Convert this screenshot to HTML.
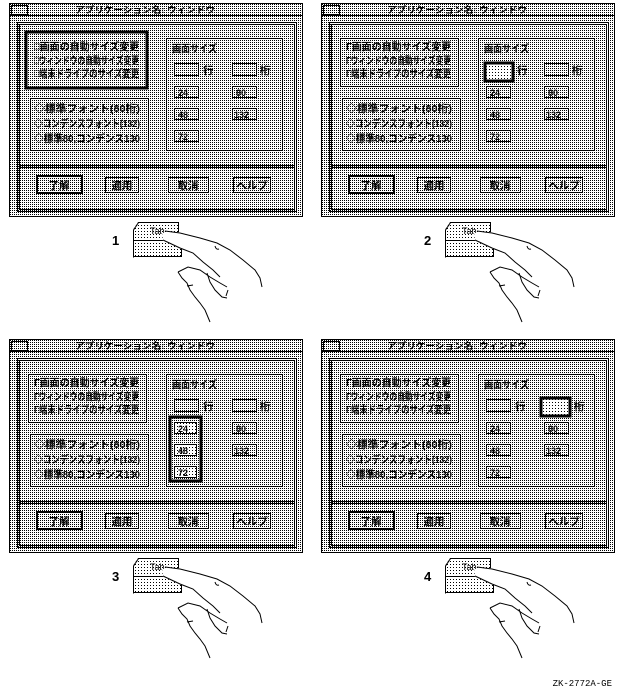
<!DOCTYPE html>
<html><head><meta charset="utf-8"><style>
html,body{margin:0;padding:0;background:#fff;}
svg{display:block;}
text{font-family:"Liberation Sans","Noto Sans CJK JP",sans-serif;fill:#000;}
.t{font-size:10.5px;font-weight:bold;}
.s{font-size:9px;font-weight:bold;}
.ln{fill:none;stroke:#000;stroke-width:1;}
</style></head><body>
<svg width="623" height="693" viewBox="0 0 623 693" xmlns="http://www.w3.org/2000/svg" shape-rendering="crispEdges">
<defs>
<pattern id="p" width="2" height="2" patternUnits="userSpaceOnUse"><rect width="2" height="2" fill="#fff"/><rect width="1" height="1" fill="#000"/></pattern>
<pattern id="q" width="3" height="3" patternUnits="userSpaceOnUse"><rect width="3" height="3" fill="#fff"/><rect width="1" height="1" fill="#000"/></pattern>
</defs>

<!-- PANEL 1 -->
<g transform="translate(0,0)">
<rect x="9.5" y="3.5" width="293" height="213" fill="url(#p)" stroke="#000"/>
<rect x="9.5" y="3.5" width="293" height="12" fill="none" stroke="#000"/>
<rect x="11.5" y="5.5" width="16" height="9" fill="none" stroke="#000"/>
<text x="75" y="13" class="s" textLength="140" lengthAdjust="spacingAndGlyphs">アプリケーション名: ウィンドウ</text>
<rect x="17.5" y="22.5" width="279" height="189" fill="none" stroke="#000"/>
<rect x="19.5" y="24.5" width="275" height="185" fill="none" stroke="#000"/>
<line x1="20" y1="165.5" x2="294" y2="165.5" stroke="#000"/><line x1="20" y1="167.5" x2="294" y2="167.5" stroke="#000"/>
<rect x="26" y="32" width="121" height="56" fill="none" stroke="#000" stroke-width="3"/>
<rect x="30.5" y="98.5" width="118" height="52" fill="none" stroke="#000"/>
<rect x="166.5" y="38.5" width="116" height="112" fill="none" stroke="#000"/>
<text x="34" y="50" class="t" textLength="105" lengthAdjust="spacingAndGlyphs">□画面の自動サイズ変更</text>
<text x="34" y="64" class="t" textLength="105" lengthAdjust="spacingAndGlyphs">□ウィンドウの自動サイズ変更</text>
<text x="34" y="77" class="t" textLength="105" lengthAdjust="spacingAndGlyphs">□端末ドライブのサイズ変更</text>
<text x="34" y="112" class="t" textLength="106" lengthAdjust="spacingAndGlyphs">◇標準フォント(80桁)</text>
<text x="34" y="127" class="t" textLength="106" lengthAdjust="spacingAndGlyphs">◇コンデンスフォント(132)</text>
<text x="34" y="142" class="t" textLength="106" lengthAdjust="spacingAndGlyphs">◇標準80,コンデンス130</text>
<text x="172" y="52" class="t" textLength="45" lengthAdjust="spacingAndGlyphs">画面サイズ</text>
<rect x="174.5" y="63.5" width="24" height="12" fill="none" stroke="#000"/><text x="203" y="74" class="t">行</text>
<rect x="232.5" y="63.5" width="24" height="12" fill="none" stroke="#000"/><text x="260" y="74" class="t">桁</text>
<rect x="174.5" y="86.5" width="24" height="11" fill="none" stroke="#000"/><text x="178" y="96" class="s">24</text>
<rect x="232.5" y="86.5" width="24" height="11" fill="none" stroke="#000"/><text x="236" y="96" class="s">80</text>
<rect x="174.5" y="108.5" width="24" height="11" fill="none" stroke="#000"/><text x="178" y="118" class="s">48</text>
<rect x="232.5" y="108.5" width="24" height="11" fill="none" stroke="#000"/><text x="234" y="118" class="s">132</text>
<rect x="174.5" y="130.5" width="24" height="11" fill="none" stroke="#000"/><text x="178" y="140" class="s">72</text>
<rect x="37" y="176" width="45" height="17" fill="none" stroke="#000" stroke-width="2"/><text x="59" y="189" class="t" text-anchor="middle">了解</text>
<rect x="105.5" y="177.5" width="33" height="15" fill="none" stroke="#000"/><text x="122" y="189" class="t" text-anchor="middle">適用</text>
<rect x="168.5" y="177.5" width="40" height="15" fill="none" stroke="#000"/><text x="188" y="189" class="t" text-anchor="middle">取消</text>
<rect x="233.5" y="177.5" width="37" height="15" fill="none" stroke="#000"/><text x="252" y="189" class="t" text-anchor="middle">ヘルプ</text>
</g>

<!-- PANEL 2 -->
<g transform="translate(312,0)">
<rect x="9.5" y="3.5" width="293" height="213" fill="url(#p)" stroke="#000"/>
<rect x="9.5" y="3.5" width="293" height="12" fill="none" stroke="#000"/>
<rect x="11.5" y="5.5" width="16" height="9" fill="none" stroke="#000"/>
<text x="75" y="13" class="s" textLength="140" lengthAdjust="spacingAndGlyphs">アプリケーション名: ウィンドウ</text>
<rect x="17.5" y="22.5" width="279" height="189" fill="none" stroke="#000"/>
<rect x="19.5" y="24.5" width="275" height="185" fill="none" stroke="#000"/>
<line x1="20" y1="165.5" x2="294" y2="165.5" stroke="#000"/><line x1="20" y1="167.5" x2="294" y2="167.5" stroke="#000"/>
<rect x="28.5" y="38.5" width="118" height="48" fill="none" stroke="#000"/>
<rect x="30.5" y="98.5" width="118" height="52" fill="none" stroke="#000"/>
<rect x="166.5" y="38.5" width="116" height="112" fill="none" stroke="#000"/>
<text x="34" y="50" class="t" textLength="105" lengthAdjust="spacingAndGlyphs">Γ画面の自動サイズ変更</text>
<text x="34" y="64" class="t" textLength="105" lengthAdjust="spacingAndGlyphs">Γウィンドウの自動サイズ変更</text>
<text x="34" y="77" class="t" textLength="105" lengthAdjust="spacingAndGlyphs">Γ端末ドライブのサイズ変更</text>
<text x="34" y="112" class="t" textLength="106" lengthAdjust="spacingAndGlyphs">◇標準フォント(80桁)</text>
<text x="34" y="127" class="t" textLength="106" lengthAdjust="spacingAndGlyphs">◇コンデンスフォント(132)</text>
<text x="34" y="142" class="t" textLength="106" lengthAdjust="spacingAndGlyphs">◇標準80,コンデンス130</text>
<text x="172" y="52" class="t" textLength="45" lengthAdjust="spacingAndGlyphs">画面サイズ</text>
<rect x="173" y="63" width="28" height="18" fill="url(#q)" stroke="#000" stroke-width="3"/><text x="205" y="74" class="t">行</text>
<rect x="232.5" y="63.5" width="24" height="12" fill="none" stroke="#000"/><text x="260" y="74" class="t">桁</text>
<rect x="174.5" y="86.5" width="24" height="11" fill="none" stroke="#000"/><text x="178" y="96" class="s">24</text>
<rect x="232.5" y="86.5" width="24" height="11" fill="none" stroke="#000"/><text x="236" y="96" class="s">80</text>
<rect x="174.5" y="108.5" width="24" height="11" fill="none" stroke="#000"/><text x="178" y="118" class="s">48</text>
<rect x="232.5" y="108.5" width="24" height="11" fill="none" stroke="#000"/><text x="234" y="118" class="s">132</text>
<rect x="174.5" y="130.5" width="24" height="11" fill="none" stroke="#000"/><text x="178" y="140" class="s">72</text>
<rect x="37" y="176" width="45" height="17" fill="none" stroke="#000" stroke-width="2"/><text x="59" y="189" class="t" text-anchor="middle">了解</text>
<rect x="105.5" y="177.5" width="33" height="15" fill="none" stroke="#000"/><text x="122" y="189" class="t" text-anchor="middle">適用</text>
<rect x="168.5" y="177.5" width="40" height="15" fill="none" stroke="#000"/><text x="188" y="189" class="t" text-anchor="middle">取消</text>
<rect x="233.5" y="177.5" width="37" height="15" fill="none" stroke="#000"/><text x="252" y="189" class="t" text-anchor="middle">ヘルプ</text>
</g>

<!-- PANEL 3 -->
<g transform="translate(0,336)">
<rect x="9.5" y="3.5" width="293" height="213" fill="url(#p)" stroke="#000"/>
<rect x="9.5" y="3.5" width="293" height="12" fill="none" stroke="#000"/>
<rect x="11.5" y="5.5" width="16" height="9" fill="none" stroke="#000"/>
<text x="75" y="13" class="s" textLength="140" lengthAdjust="spacingAndGlyphs">アプリケーション名: ウィンドウ</text>
<rect x="17.5" y="22.5" width="279" height="189" fill="none" stroke="#000"/>
<rect x="19.5" y="24.5" width="275" height="185" fill="none" stroke="#000"/>
<line x1="20" y1="165.5" x2="294" y2="165.5" stroke="#000"/><line x1="20" y1="167.5" x2="294" y2="167.5" stroke="#000"/>
<rect x="28.5" y="38.5" width="118" height="48" fill="none" stroke="#000"/>
<rect x="30.5" y="98.5" width="118" height="52" fill="none" stroke="#000"/>
<rect x="166.5" y="38.5" width="116" height="112" fill="none" stroke="#000"/>
<text x="34" y="50" class="t" textLength="105" lengthAdjust="spacingAndGlyphs">Γ画面の自動サイズ変更</text>
<text x="34" y="64" class="t" textLength="105" lengthAdjust="spacingAndGlyphs">Γウィンドウの自動サイズ変更</text>
<text x="34" y="77" class="t" textLength="105" lengthAdjust="spacingAndGlyphs">Γ端末ドライブのサイズ変更</text>
<text x="34" y="112" class="t" textLength="106" lengthAdjust="spacingAndGlyphs">◇標準フォント(80桁)</text>
<text x="34" y="127" class="t" textLength="106" lengthAdjust="spacingAndGlyphs">◇コンデンスフォント(132)</text>
<text x="34" y="142" class="t" textLength="106" lengthAdjust="spacingAndGlyphs">◇標準80,コンデンス130</text>
<text x="172" y="52" class="t" textLength="45" lengthAdjust="spacingAndGlyphs">画面サイズ</text>
<rect x="174.5" y="63.5" width="24" height="12" fill="none" stroke="#000"/><text x="203" y="74" class="t">行</text>
<rect x="232.5" y="63.5" width="24" height="12" fill="none" stroke="#000"/><text x="260" y="74" class="t">桁</text>
<rect x="170" y="81" width="31" height="64" fill="none" stroke="#000" stroke-width="3"/>
<rect x="174.5" y="86.5" width="22" height="11" fill="url(#q)" stroke="#000"/><text x="178" y="96" class="s">24</text>
<rect x="232.5" y="86.5" width="24" height="11" fill="none" stroke="#000"/><text x="236" y="96" class="s">80</text>
<rect x="174.5" y="108.5" width="22" height="11" fill="url(#q)" stroke="#000"/><text x="178" y="118" class="s">48</text>
<rect x="232.5" y="108.5" width="24" height="11" fill="none" stroke="#000"/><text x="234" y="118" class="s">132</text>
<rect x="174.5" y="130.5" width="22" height="11" fill="url(#q)" stroke="#000"/><text x="178" y="140" class="s">72</text>
<rect x="37" y="176" width="45" height="17" fill="none" stroke="#000" stroke-width="2"/><text x="59" y="189" class="t" text-anchor="middle">了解</text>
<rect x="105.5" y="177.5" width="33" height="15" fill="none" stroke="#000"/><text x="122" y="189" class="t" text-anchor="middle">適用</text>
<rect x="168.5" y="177.5" width="40" height="15" fill="none" stroke="#000"/><text x="188" y="189" class="t" text-anchor="middle">取消</text>
<rect x="233.5" y="177.5" width="37" height="15" fill="none" stroke="#000"/><text x="252" y="189" class="t" text-anchor="middle">ヘルプ</text>
</g>

<!-- PANEL 4 -->
<g transform="translate(312,336)">
<rect x="9.5" y="3.5" width="293" height="213" fill="url(#p)" stroke="#000"/>
<rect x="9.5" y="3.5" width="293" height="12" fill="none" stroke="#000"/>
<rect x="11.5" y="5.5" width="16" height="9" fill="none" stroke="#000"/>
<text x="75" y="13" class="s" textLength="140" lengthAdjust="spacingAndGlyphs">アプリケーション名: ウィンドウ</text>
<rect x="17.5" y="22.5" width="279" height="189" fill="none" stroke="#000"/>
<rect x="19.5" y="24.5" width="275" height="185" fill="none" stroke="#000"/>
<line x1="20" y1="165.5" x2="294" y2="165.5" stroke="#000"/><line x1="20" y1="167.5" x2="294" y2="167.5" stroke="#000"/>
<rect x="28.5" y="38.5" width="118" height="48" fill="none" stroke="#000"/>
<rect x="30.5" y="98.5" width="118" height="52" fill="none" stroke="#000"/>
<rect x="166.5" y="38.5" width="116" height="112" fill="none" stroke="#000"/>
<text x="34" y="50" class="t" textLength="105" lengthAdjust="spacingAndGlyphs">Γ画面の自動サイズ変更</text>
<text x="34" y="64" class="t" textLength="105" lengthAdjust="spacingAndGlyphs">Γウィンドウの自動サイズ変更</text>
<text x="34" y="77" class="t" textLength="105" lengthAdjust="spacingAndGlyphs">Γ端末ドライブのサイズ変更</text>
<text x="34" y="112" class="t" textLength="106" lengthAdjust="spacingAndGlyphs">◇標準フォント(80桁)</text>
<text x="34" y="127" class="t" textLength="106" lengthAdjust="spacingAndGlyphs">◇コンデンスフォント(132)</text>
<text x="34" y="142" class="t" textLength="106" lengthAdjust="spacingAndGlyphs">◇標準80,コンデンス130</text>
<text x="172" y="52" class="t" textLength="45" lengthAdjust="spacingAndGlyphs">画面サイズ</text>
<rect x="174.5" y="63.5" width="24" height="12" fill="none" stroke="#000"/><text x="203" y="74" class="t">行</text>
<rect x="229" y="62" width="29" height="18" fill="url(#q)" stroke="#000" stroke-width="3"/><text x="262" y="74" class="t">桁</text>
<rect x="174.5" y="86.5" width="24" height="11" fill="none" stroke="#000"/><text x="178" y="96" class="s">24</text>
<rect x="232.5" y="86.5" width="24" height="11" fill="none" stroke="#000"/><text x="236" y="96" class="s">80</text>
<rect x="174.5" y="108.5" width="24" height="11" fill="none" stroke="#000"/><text x="178" y="118" class="s">48</text>
<rect x="232.5" y="108.5" width="24" height="11" fill="none" stroke="#000"/><text x="234" y="118" class="s">132</text>
<rect x="174.5" y="130.5" width="24" height="11" fill="none" stroke="#000"/><text x="178" y="140" class="s">72</text>
<rect x="37" y="176" width="45" height="17" fill="none" stroke="#000" stroke-width="2"/><text x="59" y="189" class="t" text-anchor="middle">了解</text>
<rect x="105.5" y="177.5" width="33" height="15" fill="none" stroke="#000"/><text x="122" y="189" class="t" text-anchor="middle">適用</text>
<rect x="168.5" y="177.5" width="40" height="15" fill="none" stroke="#000"/><text x="188" y="189" class="t" text-anchor="middle">取消</text>
<rect x="233.5" y="177.5" width="37" height="15" fill="none" stroke="#000"/><text x="252" y="189" class="t" text-anchor="middle">ヘルプ</text>
</g>

<!-- HANDS -->
<g transform="translate(0,0)">
<text x="112" y="245" style="font-size:13px;font-weight:bold">1</text>
<path d="M133.5,257.5 L133.5,230 L138.5,222.5 L178.5,222.5 L178.5,240.5 L138.5,240.5 Z" fill="url(#q)" stroke="#000"/>
<rect x="133.5" y="240.5" width="48" height="16" fill="url(#q)" stroke="#000"/>
<text x="150" y="234" style="font-size:9px">Tab</text>
<g shape-rendering="geometricPrecision">
<path d="M162,233 L180,232 L200,238 L217,243 L230,250 L243,260 L255,270 L260,278 L262,288 L240,290 L220,277 L203,262 L193,253 L180,248 L163,241 Z" fill="#fff"/>
<path class="ln" d="M165,231 L180,233 L200,238 L217,243 L230,250 L243,260 L255,270 L260,278 L262,287"/>
<path class="ln" d="M163,240 L180,248 L193,253 L203,262 L213,270 L220,277"/>
<path class="ln" d="M215,246 Q216,250 219,249"/>
<path class="ln" d="M178,272 L188,267 L200,270 L210,277 L220,283 L227,287"/>
<path class="ln" d="M178,272 L182,278 L187,283 L190,290 L195,297 L200,303 L205,310 L210,322"/>
<path class="ln" d="M207,273 L210,282 L215,290 L222,297 L227,298"/>
<path class="ln" d="M187,286 L193,285"/><path class="ln" d="M228,290 L226,296"/>
</g>
</g>
<g transform="translate(312,0)">
<text x="112" y="245" style="font-size:13px;font-weight:bold">2</text>
<path d="M133.5,257.5 L133.5,230 L138.5,222.5 L178.5,222.5 L178.5,240.5 L138.5,240.5 Z" fill="url(#q)" stroke="#000"/>
<rect x="133.5" y="240.5" width="48" height="16" fill="url(#q)" stroke="#000"/>
<text x="150" y="234" style="font-size:9px">Tab</text>
<g shape-rendering="geometricPrecision">
<path d="M162,233 L180,232 L200,238 L217,243 L230,250 L243,260 L255,270 L260,278 L262,288 L240,290 L220,277 L203,262 L193,253 L180,248 L163,241 Z" fill="#fff"/>
<path class="ln" d="M165,231 L180,233 L200,238 L217,243 L230,250 L243,260 L255,270 L260,278 L262,287"/>
<path class="ln" d="M163,240 L180,248 L193,253 L203,262 L213,270 L220,277"/>
<path class="ln" d="M215,246 Q216,250 219,249"/>
<path class="ln" d="M178,272 L188,267 L200,270 L210,277 L220,283 L227,287"/>
<path class="ln" d="M178,272 L182,278 L187,283 L190,290 L195,297 L200,303 L205,310 L210,322"/>
<path class="ln" d="M207,273 L210,282 L215,290 L222,297 L227,298"/>
<path class="ln" d="M187,286 L193,285"/><path class="ln" d="M228,290 L226,296"/>
</g>
</g>
<g transform="translate(0,336)">
<text x="112" y="245" style="font-size:13px;font-weight:bold">3</text>
<path d="M133.5,257.5 L133.5,230 L138.5,222.5 L178.5,222.5 L178.5,240.5 L138.5,240.5 Z" fill="url(#q)" stroke="#000"/>
<rect x="133.5" y="240.5" width="48" height="16" fill="url(#q)" stroke="#000"/>
<text x="150" y="234" style="font-size:9px">Tab</text>
<g shape-rendering="geometricPrecision">
<path d="M162,233 L180,232 L200,238 L217,243 L230,250 L243,260 L255,270 L260,278 L262,288 L240,290 L220,277 L203,262 L193,253 L180,248 L163,241 Z" fill="#fff"/>
<path class="ln" d="M165,231 L180,233 L200,238 L217,243 L230,250 L243,260 L255,270 L260,278 L262,287"/>
<path class="ln" d="M163,240 L180,248 L193,253 L203,262 L213,270 L220,277"/>
<path class="ln" d="M215,246 Q216,250 219,249"/>
<path class="ln" d="M178,272 L188,267 L200,270 L210,277 L220,283 L227,287"/>
<path class="ln" d="M178,272 L182,278 L187,283 L190,290 L195,297 L200,303 L205,310 L210,322"/>
<path class="ln" d="M207,273 L210,282 L215,290 L222,297 L227,298"/>
<path class="ln" d="M187,286 L193,285"/><path class="ln" d="M228,290 L226,296"/>
</g>
</g>
<g transform="translate(312,336)">
<text x="112" y="245" style="font-size:13px;font-weight:bold">4</text>
<path d="M133.5,257.5 L133.5,230 L138.5,222.5 L178.5,222.5 L178.5,240.5 L138.5,240.5 Z" fill="url(#q)" stroke="#000"/>
<rect x="133.5" y="240.5" width="48" height="16" fill="url(#q)" stroke="#000"/>
<text x="150" y="234" style="font-size:9px">Tab</text>
<g shape-rendering="geometricPrecision">
<path d="M162,233 L180,232 L200,238 L217,243 L230,250 L243,260 L255,270 L260,278 L262,288 L240,290 L220,277 L203,262 L193,253 L180,248 L163,241 Z" fill="#fff"/>
<path class="ln" d="M165,231 L180,233 L200,238 L217,243 L230,250 L243,260 L255,270 L260,278 L262,287"/>
<path class="ln" d="M163,240 L180,248 L193,253 L203,262 L213,270 L220,277"/>
<path class="ln" d="M215,246 Q216,250 219,249"/>
<path class="ln" d="M178,272 L188,267 L200,270 L210,277 L220,283 L227,287"/>
<path class="ln" d="M178,272 L182,278 L187,283 L190,290 L195,297 L200,303 L205,310 L210,322"/>
<path class="ln" d="M207,273 L210,282 L215,290 L222,297 L227,298"/>
<path class="ln" d="M187,286 L193,285"/><path class="ln" d="M228,290 L226,296"/>
</g>
</g>

<text x="612" y="686" text-anchor="end" style="font-size:9px;font-family:'Liberation Mono',monospace">ZK-2772A-GE</text>
</svg>
</body></html>
